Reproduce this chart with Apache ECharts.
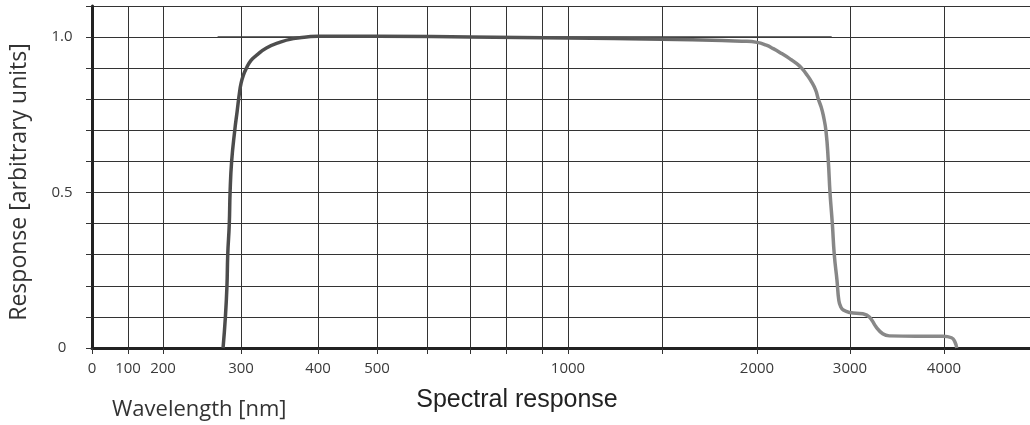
<!DOCTYPE html>
<html>
<head>
<meta charset="utf-8">
<script src="https://cdn.jsdelivr.net/npm/echarts@6/dist/echarts.min.js"></script>
<style>
html,body{margin:0;padding:0;background:#fff;}
#chart{width:1030px;height:425px;}
</style>
</head>
<body>
<div id="chart"></div>
<script>
// ---- Data ----
const wavelengthNm = [277, 280, 282, 283, 285, 286, 288, 292, 295, 298, 300, 303, 307, 313, 320, 333, 351, 368, 385, 400, 500, 700, 1000, 1500, 1817, 1920, 2000, 2100, 2175, 2250, 2355, 2420, 2480, 2540, 2588, 2630, 2660, 2690, 2713, 2742, 2767, 2785, 2810, 2831, 2860, 2880, 2900, 2928, 3000, 3135, 3206, 3277, 3348, 3418, 3700, 3990, 4080, 4117, 4135];
const response = [0, 0.1, 0.2, 0.3, 0.4, 0.5, 0.6, 0.7, 0.76, 0.82, 0.85, 0.877, 0.9, 0.925, 0.941, 0.965, 0.984, 0.995, 1.0, 1.003, 1.003, 1.0, 0.997, 0.993, 0.989, 0.987, 0.983, 0.974, 0.963, 0.95, 0.93, 0.916, 0.9, 0.877, 0.855, 0.83, 0.8, 0.775, 0.748, 0.697, 0.6, 0.5, 0.4, 0.3, 0.218, 0.153, 0.133, 0.122, 0.114, 0.11, 0.1, 0.068, 0.046, 0.039, 0.038, 0.038, 0.033, 0.019, 0];
const referenceNm = [270, 2803];
const referenceLevel = [1.0, 1.0];
const xTickLabelsNm = [0, 100, 200, 300, 400, 500, 1000, 2000, 3000, 4000];
const xGridNm = [0, 100, 200, 300, 400, 500, 600, 700, 800, 900, 1000, 1500, 2000, 3000, 4000];
const yTickLabels = [0, 0.5, 1.0];

// Non-uniform printed wavelength scale: knots (nm -> axis units)
const scaleKnotsNm = [0, 100, 200, 300, 400, 500, 600, 700, 800, 900, 1000, 1500, 2000, 3000, 4000, 4915];
const scaleKnotsUnit = [0, 36, 71, 149, 226, 285, 335, 378, 414, 450, 476, 570, 665, 758, 852, 938];

function toUnit(nm) {
  for (let i = 0; i < scaleKnotsNm.length - 1; i++) {
    const a = scaleKnotsNm[i], b = scaleKnotsNm[i + 1];
    if (nm <= b || i === scaleKnotsNm.length - 2) {
      return scaleKnotsUnit[i] + (nm - a) / (b - a) * (scaleKnotsUnit[i + 1] - scaleKnotsUnit[i]);
    }
  }
}
function toNm(u) {
  for (let i = 0; i < scaleKnotsUnit.length - 1; i++) {
    const a = scaleKnotsUnit[i], b = scaleKnotsUnit[i + 1];
    if (u <= b + 1e-6) {
      return scaleKnotsNm[i] + (u - a) / (b - a) * (scaleKnotsNm[i + 1] - scaleKnotsNm[i]);
    }
  }
  return scaleKnotsNm[scaleKnotsNm.length - 1];
}

const curve = wavelengthNm.map((w, i) => [toUnit(w), response[i]]);
const refLine = referenceNm.map((w, i) => [toUnit(w), referenceLevel[i]]);

const chart = echarts.init(document.getElementById('chart'), null, {renderer: 'canvas'});
const labelFont = {fontFamily: 'Open Sans', fontSize: 15, color: '#3a3a3a'};

chart.setOption({
  animation: false,
  backgroundColor: '#fff',
  grid: {left: 92, right: 0, top: 6, bottom: 77, containLabel: false},
  xAxis: {
    type: 'value',
    min: 0,
    max: scaleKnotsUnit[scaleKnotsUnit.length - 1],
    axisLine: {show: true, onZero: true, lineStyle: {color: '#222', width: 3}},
    axisTick: {show: true, length: 6, customValues: xGridNm.map(toUnit), lineStyle: {color: '#333', width: 1}},
    axisLabel: {
      customValues: xTickLabelsNm.map(toUnit),
      margin: 13,
      ...labelFont,
      formatter: v => String(Math.round(toNm(v) / 10) * 10)
    },
    splitLine: {show: true, lineStyle: {color: '#333', width: 1}}
  },
  yAxis: {
    type: 'value',
    min: 0,
    max: 1.1,
    interval: 0.1,
    axisLine: {show: true, lineStyle: {color: '#222', width: 3}},
    axisTick: {show: true, length: 6, lineStyle: {color: '#333', width: 1}},
    axisLabel: {
      customValues: yTickLabels,
      margin: 30,
      align: 'center',
      padding: [0, 0, 5, 0],
      ...labelFont,
      formatter: v => v === 0 ? '0' : v.toFixed(1)
    },
    splitLine: {show: true, lineStyle: {color: '#333', width: 1}}
  },
  series: [
    {
      type: 'line',
      data: refLine,
      symbol: 'none',
      lineStyle: {color: '#3a3a3a', width: 1.6},
      z: 2
    },
    {
      type: 'line',
      data: curve,
      symbol: 'none',
      smooth: 0.5,
      lineStyle: {
        width: 3.5,
        color: new echarts.graphic.LinearGradient(0, 0, 1, 0, [
          {offset: 0, color: '#4c4c4c'},
          {offset: 0.55, color: '#555555'},
          {offset: 0.72, color: '#858585'},
          {offset: 1, color: '#8a8a8a'}
        ])
      },
      z: 3
    }
  ],
  graphic: [
    {
      type: 'text', x: 19, y: 182, rotation: Math.PI / 2,
      style: {text: 'Response [arbitrary units]', font: '23px "Open Sans"', fill: '#333', textAlign: 'center', textVerticalAlign: 'middle'}
    },
    {
      type: 'text', x: 112, y: 410,
      style: {text: 'Wavelength [nm]', font: '22px "Open Sans"', fill: '#333', textAlign: 'left', textVerticalAlign: 'middle'}
    },
    {
      type: 'text', x: 517, y: 400,
      style: {text: 'Spectral response', font: '25px "Liberation Sans"', fill: '#222', textAlign: 'center', textVerticalAlign: 'middle'}
    }
  ]
});
</script>
</body>
</html>
